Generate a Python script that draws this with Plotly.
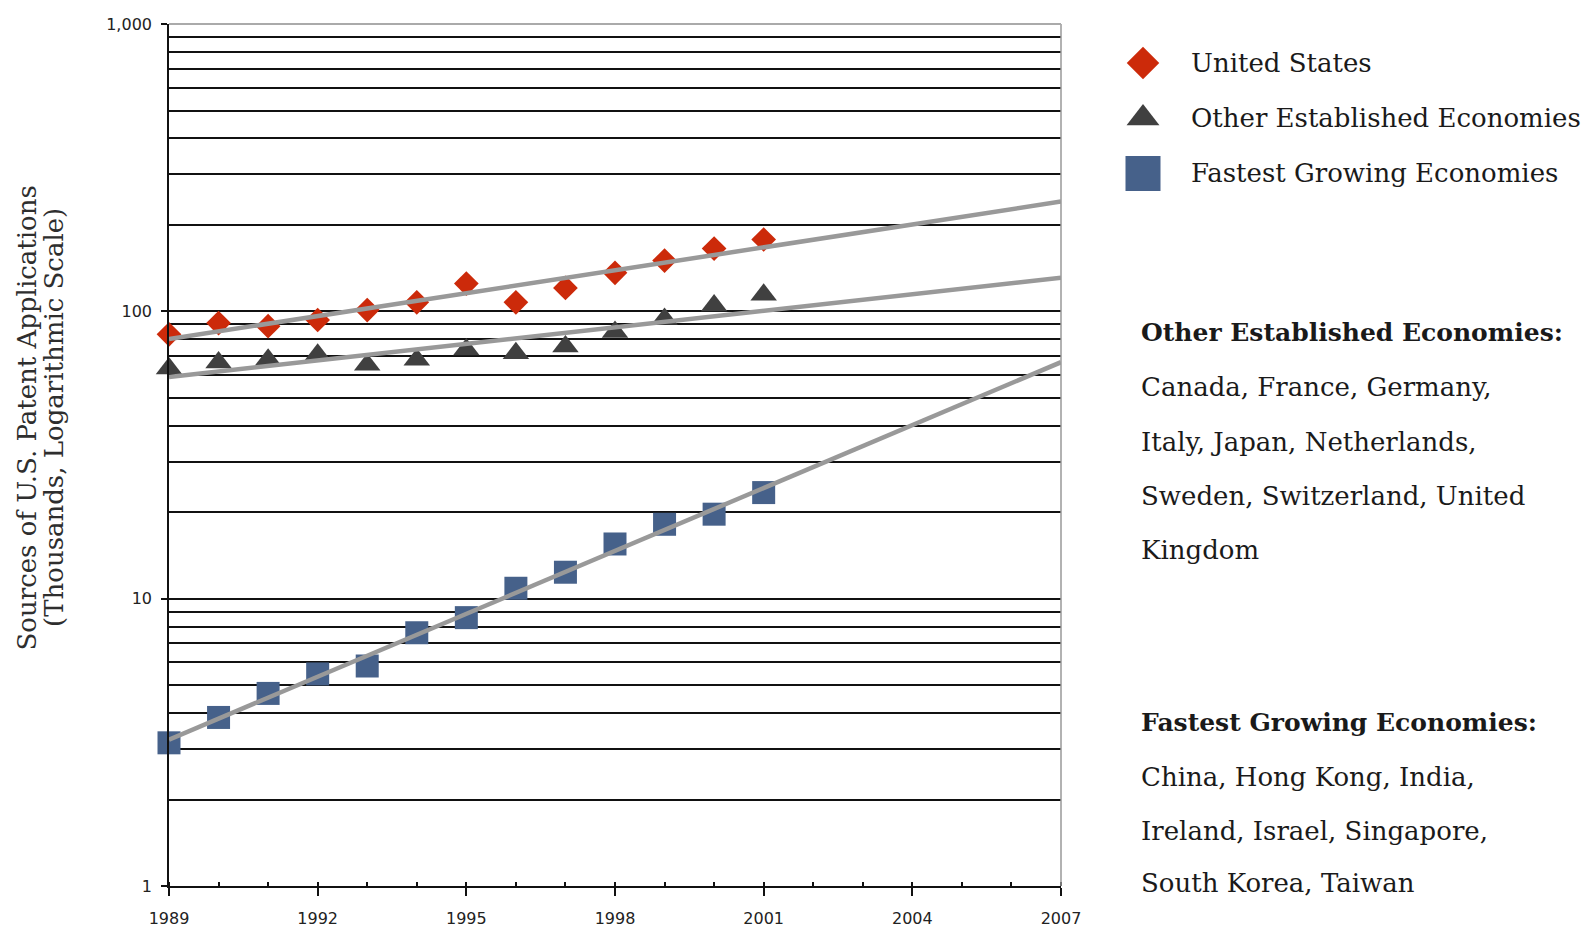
import numpy as np
import plotly.graph_objects as go

# Annual counts of U.S. patent applications by source (thousands)
years = list(range(1989, 2002))
us_values = [83.2, 91.0, 88.8, 93.3, 101.0, 107.5, 124.9, 107.5, 120.6, 136.1, 150.2, 165.4, 177.8]
other_values = [63.2, 66.3, 67.9, 70.6, 65.2, 67.9, 73.6, 71.4, 75.5, 84.8, 94.1, 104.7, 114.3]
fast_values = [3.15, 3.86, 4.68, 5.47, 5.83, 7.61, 8.59, 10.87, 12.36, 15.5, 18.15, 19.68, 23.4]

series_names = ["United States", "Other Established Economies", "Fastest Growing Economies"]
series_values = [us_values, other_values, fast_values]
series_colors = ["#CC2A0A", "#404040", "#46618A"]
series_symbols = ["diamond", "triangle-up", "square"]
data_sizes = [19, 23, 23]
legend_sizes = [25, 28.5, 35]

trend_span = [1989, 2007]
y_tickvals = [1, 10, 100, 1000]
y_ticktext = ["1", "10", "100", "1,000"]
x_tickvals = list(range(1989, 2008, 3))

other_heading = "Other Established Economies:"
other_lines = ["Canada, France, Germany,", "Italy, Japan, Netherlands,",
               "Sweden, Switzerland, United", "Kingdom"]
fast_heading = "Fastest Growing Economies:"
fast_lines = ["China, Hong Kong, India,", "Ireland, Israel, Singapore,",
              "South Korea, Taiwan"]

W, H = 1590, 927
ML, MR, MT, MB = 169, 0, 24, 41
PW, PH = W - ML - MR, H - MT - MB


def px_x(x):
    return (x - ML) / PW


def px_y(y):
    return (H - MB - y) / PH


SERIF = "DejaVu Serif"
SANS = "DejaVu Sans"
TEXT = "#1a1a1a"
GRID = "#111111"

fig = go.Figure()

# data markers
for name, vals, col, sym, sz in zip(series_names, series_values, series_colors,
                                     series_symbols, data_sizes):
    fig.add_trace(go.Scatter(
        x=years, y=vals, mode="markers", name=name, showlegend=False,
        cliponaxis=False,
        marker=dict(symbol=sym, size=sz, color=col, line=dict(width=0)),
        xaxis="x", yaxis="y"))

# exponential trend lines (least squares on log10 values)
for vals in series_values:
    slope, intercept = np.polyfit(years, np.log10(vals), 1)
    tx = np.array(trend_span, dtype=float)
    ty = 10 ** (intercept + slope * tx)
    fig.add_trace(go.Scatter(
        x=tx, y=ty, mode="lines", showlegend=False, hoverinfo="skip",
        line=dict(color="#999999", width=4.5), xaxis="x", yaxis="y"))

# legend symbols on their own small axes
for name, col, sym, sz in zip(series_names, series_colors, series_symbols, legend_sizes):
    fig.add_trace(go.Scatter(
        x=[0], y=[name], mode="markers", showlegend=False, cliponaxis=False,
        marker=dict(symbol=sym, size=sz, color=col, line=dict(width=0)),
        xaxis="x2", yaxis="y2"))

annotations = []
for name in series_names:
    annotations.append(dict(
        xref="paper", yref="y2", x=px_x(1189), y=name, text=name,
        xanchor="left", yanchor="middle", showarrow=False,
        font=dict(family=SERIF, size=26, color=TEXT)))

# descriptive text blocks
block_rows = [(other_heading, True)] + [(t, False) for t in other_lines]
block_y = [332.6, 387.3, 442.0, 496.0, 549.6]
block_rows += [(fast_heading, True)] + [(t, False) for t in fast_lines]
block_y += [722.0, 776.7, 830.5, 883.2]
for (txt, bold), yy in zip(block_rows, block_y):
    annotations.append(dict(
        xref="paper", yref="paper", x=px_x(1139), y=px_y(yy),
        text=f"<b>{txt}</b>" if bold else txt,
        xanchor="left", yanchor="middle", showarrow=False,
        font=dict(family=SERIF, size=25 if bold else 26, color=TEXT)))

# y-axis title, two lines
for txt, xx in [("Sources of U.S. Patent Applications", 26.5),
                ("(Thousands, Logarithmic Scale)", 54.0)]:
    annotations.append(dict(
        xref="paper", yref="paper", x=px_x(xx), y=px_y(418),
        text=txt, textangle=-90, xanchor="center", yanchor="middle",
        showarrow=False, font=dict(family=SERIF, size=26, color="#2e2e2e")))

minor_vals = [m * 10 ** e for e in range(0, 3) for m in range(2, 10)]

main_right = (1061 - ML) / PW

fig.update_layout(
    width=W, height=H,
    margin=dict(l=ML, r=MR, t=MT, b=MB, pad=0, autoexpand=False),
    paper_bgcolor="white", plot_bgcolor="white",
    showlegend=False,
    annotations=annotations,
    xaxis=dict(
        domain=[0, main_right], range=[1989, 2007], tickmode="array",
        tickvals=x_tickvals, ticktext=[str(v) for v in x_tickvals],
        showgrid=False, zeroline=False, showline=True, linecolor=GRID,
        linewidth=1.6, ticks="outside", ticklen=8, tickwidth=1.6,
        tickcolor=GRID, ticklabelstandoff=9,
        tickfont=dict(family=SANS, size=16, color="#222222"),
        minor=dict(tickmode="linear", tick0=1989, dtick=1, ticks="inside",
                   ticklen=4, tickwidth=1.6, tickcolor=GRID, showgrid=False)),
    yaxis=dict(
        type="log", range=[0, 3], tickmode="array", tickvals=y_tickvals,
        ticktext=y_ticktext, showgrid=True, gridcolor=GRID, gridwidth=1.6,
        zeroline=False, showline=True, linecolor=GRID, linewidth=1.6,
        ticks="outside", ticklen=6, tickwidth=1.6, tickcolor=GRID,
        ticklabelstandoff=6,
        tickfont=dict(family=SANS, size=16, color="#222222"),
        minor=dict(tickmode="array", tickvals=minor_vals, showgrid=True,
                   gridcolor=GRID, gridwidth=1.6, ticks="")),
    xaxis2=dict(domain=[px_x(1093), px_x(1193)], range=[-1, 1], visible=False,
                anchor="y2", fixedrange=True),
    yaxis2=dict(domain=[px_y(201), px_y(35.4)], type="category",
                categoryorder="array", categoryarray=series_names,
                range=[2.5, -0.5], visible=False, anchor="x2", fixedrange=True),
    shapes=[
        dict(type="line", xref="x domain", yref="y domain", x0=1, x1=1, y0=0, y1=1,
             line=dict(color="#999999", width=1.5), layer="above"),
        dict(type="line", xref="x domain", yref="y domain", x0=0, x1=1, y0=1, y1=1,
             line=dict(color="#aaaaaa", width=2), layer="above"),
    ],
)

fig.write_html("out.html")
